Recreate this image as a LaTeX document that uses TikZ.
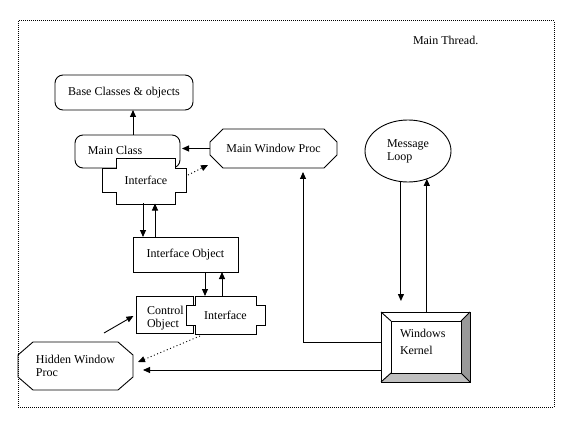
\documentclass[tikz,border=0pt]{standalone}
\usepackage{fontspec}
\setmainfont{Liberation Serif}
\usetikzlibrary{arrows.meta,shapes.geometric}
\newcommand\octpath[3]{\draw[line] ([xshift=#2]#1.north west) -- ([xshift=-#2]#1.north east) -- ([yshift=-#3]#1.north east) -- ([yshift=#3]#1.south east) -- ([xshift=-#2]#1.south east) -- ([xshift=#2]#1.south west) -- ([yshift=#3]#1.south west) -- ([yshift=-#3]#1.north west) -- cycle;}
\definecolor{bevdark}{HTML}{999999}
\definecolor{bevlight}{HTML}{C0C0C0}
\begin{document}
\begin{tikzpicture}[x=1pt,y=-1pt,
  line/.style={line width=0.9pt},
  arr/.style={line width=0.9pt,-{Triangle[length=7pt,width=6pt]}},
  darr/.style={line width=0.9pt,dash pattern=on 1pt off 2.5pt,-{Triangle[length=7pt,width=6pt]}},
  txt/.style={font=\fontsize{12}{13}\selectfont, inner sep=0pt, outer sep=0pt, align=left},
  box/.style={txt, draw, line width=0.9pt},
]
\useasboundingbox (0,0) rectangle (576,433);
\fill[white] (0,0) rectangle (576,433);
\draw[line width=1pt, dash pattern=on 1pt off 1pt] (18,21) rectangle (554,407);

\node[txt, anchor=base west] (thread) at (413,45) {Main Thread.};

% Base classes
\node[box, rounded corners=8pt, minimum width=138pt, minimum height=35pt] (base) at (124,92.5) {Base Classes \& objects};

% Main class
\node[box, rounded corners=8pt, minimum width=105pt, minimum height=33pt] (mc) at (127.5,151.5) {};
\node[txt] (mctext) at (115,150) {Main Class};

% Interface 1
\draw[line, fill=white] (116,158) -- (175,158) -- (175,168) -- (186,168) -- (186,192) -- (175,192) -- (175,204) -- (116,204) -- (116,192) -- (102,192) -- (102,168) -- (116,168) -- cycle;
\node[txt, minimum width=84pt, minimum height=46pt] (if1) at (146,180.5) {Interface};

% Interface object
\node[box, minimum width=105pt, minimum height=35pt] (io) at (185.5,254.5) {Interface Object};

% Control object
\node[draw, line, minimum width=57pt, minimum height=37pt, inner sep=0pt, outer sep=0pt] (ctrl) at (164.5,314.5) {};
\begin{scope}
\clip (136,296) rectangle (193,329);
\node[txt, anchor=base west] (ctrltext) at (147,327) {Control\\Object};
\end{scope}

% Interface 2
\draw[line, fill=white] (195,296) -- (256,296) -- (256,305) -- (265,305) -- (265,325) -- (256,325) -- (256,334) -- (195,334) -- (195,325) -- (186,325) -- (186,305) -- (195,305) -- cycle;
\node[txt, minimum width=79pt, minimum height=38pt] (if2) at (225.5,315) {Interface};

% Main window proc
\node[txt, minimum width=127pt, minimum height=39pt] (mwp) at (273.5,148.5) {Main Window Proc};
\octpath{mwp}{13pt}{13pt}

% Hidden window proc
\node[txt, minimum width=115pt, minimum height=48pt] (hwp) at (75.5,366) {Hidden Window\\Proc};
\octpath{hwp}{15pt}{13pt}

% Message loop
\node[txt, draw, line, ellipse, minimum width=86pt, minimum height=62pt] (ml) at (408,151) {Message\\Loop};

% Windows kernel
\node[txt, minimum width=89pt, minimum height=70pt] (wk) at (425.5,347) {};
\coordinate (iNW) at ([xshift=10pt,yshift=-9pt]wk.north west);
\coordinate (iNE) at ([xshift=-9pt,yshift=-9pt]wk.north east);
\coordinate (iSE) at ([xshift=-9pt,yshift=9pt]wk.south east);
\coordinate (iSW) at ([xshift=10pt,yshift=9pt]wk.south west);
\fill[bevdark] (wk.north east) -- (wk.south east) -- (iSE) -- (iNE) -- cycle;
\fill[bevlight] (wk.south west) -- (wk.south east) -- (iSE) -- (iSW) -- cycle;
\draw[line] (wk.north west) rectangle (wk.south east);
\draw[line] (iNW) rectangle (iSE);
\draw[line] (wk.north west) -- (iNW) (wk.north east) -- (iNE) (wk.south east) -- (iSE) (wk.south west) -- (iSW);
\node[txt, anchor=base west] (wktext) at (400,354) {Windows\\[4pt]Kernel};

% Connectors
\coordinate (c1) at ([xshift=5.5pt]mc.north);
\draw[arr] (c1) -- (c1 |- base.south);
\draw[arr, shorten >=2pt] (mwp.west) -- (mwp.west -| mc.east);
\draw[darr] ([yshift=5.5pt]if1.east) -- ([xshift=-2pt,yshift=3pt]mwp.south west);

\coordinate (d2) at ([xshift=-3pt]if1.south);
\draw[arr] (d2) -- (d2 |- io.north);
\coordinate (u2) at ([xshift=9pt]if1.south);
\draw[arr] (u2 |- io.north) -- (u2);

\coordinate (d3) at ([xshift=-20.5pt]if2.north);
\draw[arr] (d3 |- io.south) -- (d3);
\coordinate (u3) at ([xshift=-3.5pt]if2.north);
\draw[arr] (u3) -- (u3 |- io.south);

\coordinate (cs) at (104,333);
\draw[arr, shorten >=3pt] (cs) -- (ctrl.west);

\draw[darr] ([xshift=14pt,yshift=-2pt]if2.south west) -- ([xshift=5pt,yshift=4pt]hwp.east);

\coordinate (k2) at ([yshift=-23pt]wk.west);
\draw[arr, shorten >=10pt] (k2) -- (k2 -| hwp.east);

\coordinate (k1) at ([yshift=5pt]wk.west);
\coordinate (m1) at ([xshift=29.5pt]mwp.south);
\draw[arr, shorten >=4pt] (k1) -| (m1);

\coordinate (d4) at (ml.257);
\draw[arr, shorten >=11pt] (d4) -- (d4 |- wk.north);
\coordinate (u4) at (ml.304);
\draw[arr] (u4 |- wk.north) -- (u4);
\end{tikzpicture}
\end{document}
